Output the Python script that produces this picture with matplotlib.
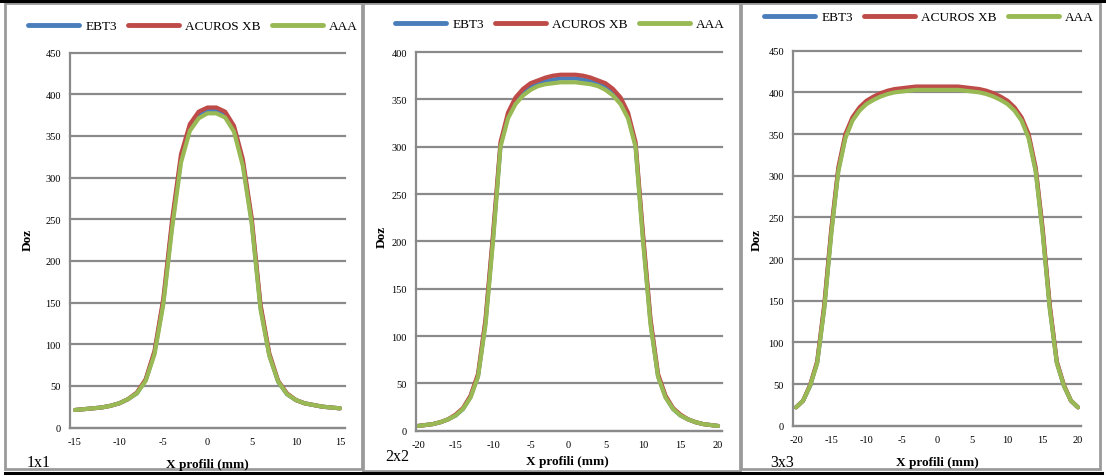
import matplotlib
matplotlib.use("Agg")
import matplotlib.pyplot as plt
from matplotlib.lines import Line2D
from matplotlib.patches import Rectangle

# --- data ---
series_names = ["EBT3", "ACUROS XB", "AAA"]
panel_labels = ["1x1", "2x2", "3x3"]

x_1x1 = list(range(-15, 16))
ebt3_1x1 = [21, 22, 23, 24, 26, 29, 34, 41, 57, 90, 151, 245, 323, 360, 375, 381,
            381, 376, 359, 318, 248, 145, 87, 55, 40, 33, 29, 27, 25, 24, 23]
acuros_1x1 = [21, 22, 23, 24, 26, 29, 34, 42, 58, 92, 155, 250, 328, 364, 379, 384,
              384, 379, 362, 322, 252, 148, 89, 56, 41, 33, 29, 27, 25, 24, 23]
aaa_1x1 = [21, 22, 23, 24, 26, 29, 34, 41, 56, 88, 148, 240, 318, 356, 371, 377,
           377, 372, 355, 314, 245, 142, 86, 55, 40, 33, 29, 27, 25, 24, 23]

x_2x2 = list(range(-20, 21))
ebt3_2x2 = [5, 6, 7, 9, 12, 16, 23, 36, 58, 115, 204, 302, 333, 348, 357, 363, 367, 369, 371, 372,
            372,
            372, 371, 369, 367, 363, 357, 348, 333, 302, 204, 115, 58, 36, 23, 16, 12, 9, 7, 6, 5]
acuros_2x2 = [5, 6, 7, 9, 12, 17, 24, 37, 60, 118, 208, 305, 336, 352, 361, 367, 370, 373, 375, 376,
              376,
              376, 375, 373, 370, 367, 361, 352, 336, 305, 208, 118, 60, 37, 24, 17, 12, 9, 7, 6, 5]
aaa_2x2 = [5, 6, 7, 9, 12, 16, 23, 35, 57, 112, 200, 300, 330, 345, 354, 360, 364, 366, 367, 368,
           368,
           368, 367, 366, 364, 360, 354, 345, 330, 300, 200, 112, 57, 35, 23, 16, 12, 9, 7, 6, 5]

x_3x3 = list(range(-20, 21))
ebt3_3x3 = [22, 30, 48, 76, 142, 233, 307, 347, 368, 380, 388, 393, 397, 400, 402, 403, 404, 405, 405, 405,
            405,
            405, 405, 405, 404, 403, 402, 400, 397, 393, 388, 380, 368, 347, 307, 233, 142, 76, 48, 30, 22]
acuros_3x3 = [22, 30, 49, 77, 145, 236, 310, 350, 370, 382, 390, 395, 399, 402, 404, 405, 406, 407, 407, 407,
              407,
              407, 407, 407, 406, 405, 404, 402, 399, 395, 390, 382, 370, 350, 310, 236, 145, 77, 49, 30, 22]
aaa_3x3 = [22, 30, 48, 75, 140, 230, 305, 345, 366, 378, 386, 391, 395, 398, 400, 401, 402, 403, 403, 403,
           403,
           403, 403, 403, 402, 401, 400, 398, 395, 391, 386, 378, 366, 345, 305, 230, 140, 75, 48, 30, 22]

colors = ["#4A7EBB", "#BE4B48", "#98B954"]
grid_c = "#8a8a8a"
W, H = 1106, 477

plt.rcParams["font.family"] = ["Liberation Serif", "DejaVu Serif"]
plt.rcParams["axes.unicode_minus"] = False


def fx(x):
    return x / W


def fy(y):
    return 1 - y / H


fig = plt.figure(figsize=(W / 100, H / 100), dpi=100)

# panel frames (pixel boxes) and document rules
frames = [(5, 4, 362, 470), (363, 4, 740, 472), (741, 4, 1100, 470)]
for l, t, r, b in frames:
    fig.patches.append(Rectangle((fx(l), fy(b)), (r - l) / W, (b - t) / H,
                                 transform=fig.transFigure, fill=False,
                                 edgecolor="#9a9a9a", lw=2.0))
fig.lines.append(Line2D([0, 1], [fy(1.5), fy(1.5)], transform=fig.transFigure,
                        color="black", lw=2.2))
fig.lines.append(Line2D([fx(5), fx(1102)], [fy(474), fy(474)], transform=fig.transFigure,
                        color="black", lw=2.2))

panels = [
    dict(x=x_1x1, ys=[ebt3_1x1, acuros_1x1, aaa_1x1], box=(70, 53.5, 345, 428.5),
         xlim=(-15.57, 15.57), ymax=450, xticks=range(-15, 16, 5),
         leg=(193, 27), ylab=(28, 240), xlab=(207, 465), corner=(27, 463)),
    dict(x=x_2x2, ys=[ebt3_2x2, acuros_2x2, aaa_2x2], box=(416, 53, 722, 431.7),
         xlim=(-20.27, 20.53), ymax=400, xticks=range(-20, 21, 5),
         leg=(560, 25), ylab=(382, 237), xlab=(567, 462), corner=(385, 457)),
    dict(x=x_3x3, ys=[ebt3_3x3, acuros_3x3, aaa_3x3], box=(793, 51.7, 1081, 426.7),
         xlim=(-20.43, 20.43), ymax=450, xticks=range(-20, 21, 5),
         leg=(929, 18), ylab=(757, 240), xlab=(937, 463), corner=(770, 463)),
]

for p, corner_text in zip(panels, panel_labels):
    l, t, r, b = p["box"]
    ax = fig.add_axes([fx(l), fy(b), (r - l) / W, (b - t) / H])
    for ys, c, name in zip(p["ys"], colors, series_names):
        ax.plot(p["x"], ys, color=c, lw=3.0, label=name, solid_capstyle="round")
    ax.set_xlim(*p["xlim"])
    ax.set_ylim(0, p["ymax"])
    ax.set_yticks(range(0, p["ymax"] + 1, 50))
    ax.set_xticks(list(p["xticks"]))
    ax.yaxis.grid(True, color=grid_c, lw=1.6)
    ax.set_axisbelow(True)
    for gl in ax.get_ygridlines():
        gl.set_clip_on(False)
    for s in ["top", "right"]:
        ax.spines[s].set_visible(False)
    for s in ["left", "bottom"]:
        ax.spines[s].set_color(grid_c)
        ax.spines[s].set_linewidth(1.6)
    ax.tick_params(length=0, labelsize=7.5, pad=6.5)
    ax.legend(loc="center", bbox_to_anchor=(fx(p["leg"][0]), fy(p["leg"][1])),
              bbox_transform=fig.transFigure, ncol=3, frameon=False,
              fontsize=9.5, handlelength=3.9, handletextpad=0.45,
              columnspacing=0.85, borderaxespad=0)
    for line in ax.get_legend().get_lines():
        line.set_linewidth(3.5)
    fig.text(fx(p["ylab"][0]), fy(p["ylab"][1]), "Doz", rotation=90,
             ha="center", va="center", fontsize=9.5, fontweight="bold")
    fig.text(fx(p["xlab"][0]), fy(p["xlab"][1]), "X profili (mm)",
             ha="center", va="center", fontsize=9.5, fontweight="bold")
    fig.text(fx(p["corner"][0]), fy(p["corner"][1]), corner_text,
             ha="left", va="center", fontsize=11.5)

fig.savefig("out.png", dpi=100)
